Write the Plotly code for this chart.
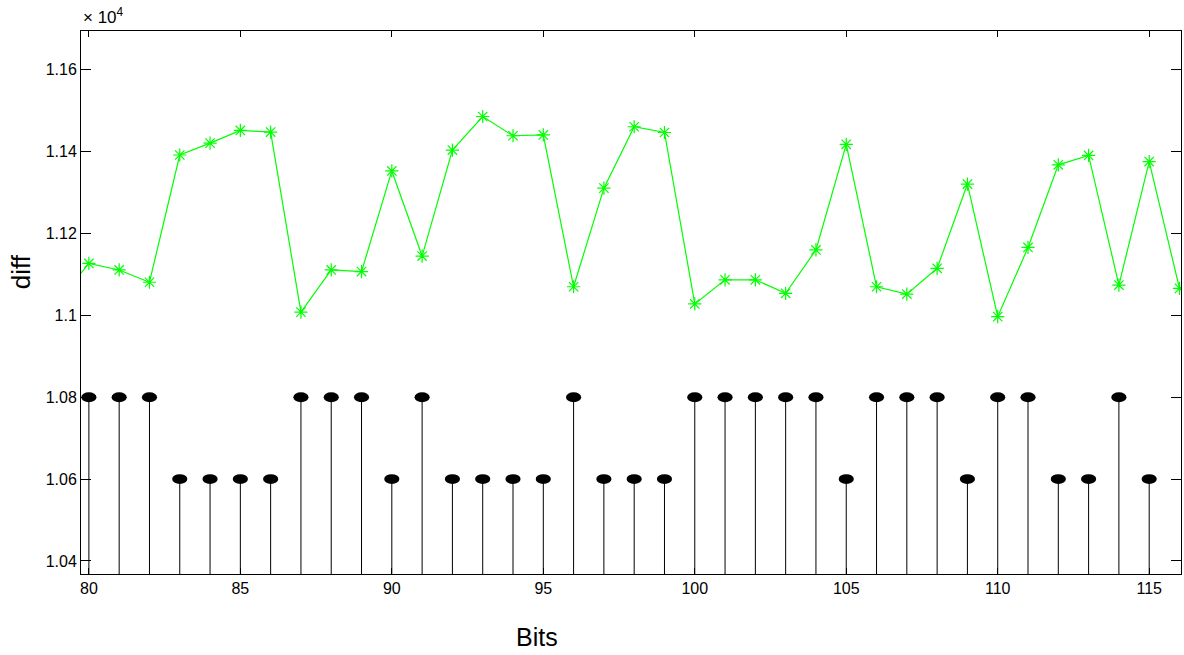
import plotly.graph_objects as go

# ---- data ----
bits = list(range(79, 117))
diff_vals = [11036, 11127, 11111, 11081, 11392, 11421, 11452, 11448, 11008, 11111,
             11107, 11353, 11145, 11404, 11486, 11439, 11441, 11070, 11311, 11461,
             11447, 11028, 11087, 11087, 11054, 11160, 11418, 11070, 11052, 11115,
             11321, 10997, 11166, 11368, 11391, 11074, 11376, 11066]

stem_bits = list(range(80, 116))
stem_vals = [10800, 10800, 10800, 10600, 10600, 10600, 10600, 10800, 10800, 10800,
             10600, 10800, 10600, 10600, 10600, 10600, 10800, 10600, 10600, 10600,
             10800, 10800, 10800, 10800, 10800, 10600, 10800, 10800, 10800, 10600,
             10800, 10800, 10600, 10600, 10800, 10600]

x_ticks = [80, 85, 90, 95, 100, 105, 110, 115]
y_ticks = [1.04, 1.06, 1.08, 1.10, 1.12, 1.14, 1.16]
y_ticktext = ["1.04", "1.06", "1.08", "1.1", "1.12", "1.14", "1.16"]
scale = 1e4
baseline = 0

FONT = "Liberation Sans, Arial, Helvetica, sans-serif"

fig = go.Figure()

# stems
sx, sy = [], []
for b, v in zip(stem_bits, stem_vals):
    sx += [b, b, None]
    sy += [baseline / scale, v / scale, None]
fig.add_trace(go.Scatter(x=sx, y=sy, mode="lines",
                         line=dict(color="black", width=1), showlegend=False,
                         hoverinfo="skip"))

# green line with asterisks
fig.add_trace(go.Scatter(x=bits, y=[v / scale for v in diff_vals], mode="lines+markers",
                         line=dict(color="#00ff00", width=1.2),
                         marker=dict(symbol="asterisk-open", size=11,
                                     line=dict(color="#00ff00", width=1.2)),
                         showlegend=False))

# elliptical stem heads (drawn in data coordinates)
shapes = []
for b, v in zip(stem_bits, stem_vals):
    shapes.append(dict(type="circle", xref="x", yref="y",
                       x0=b - 0.25, x1=b + 0.25,
                       y0=v / scale - 0.0012, y1=v / scale + 0.0012,
                       fillcolor="black", line=dict(width=0), layer="above"))

fig.update_layout(
    width=1184, height=655,
    margin=dict(l=81, r=3, t=31, b=81),
    paper_bgcolor="white", plot_bgcolor="white",
    shapes=shapes,
    font=dict(family=FONT, color="black"),
    xaxis=dict(range=[79.74, 116.05], tickvals=x_ticks, ticks="inside", ticklen=6,
               tickcolor="black", showline=True, linecolor="black", linewidth=1,
               mirror="ticks", showgrid=False, zeroline=False,
               tickfont=dict(size=16, family=FONT, color="black")),
    yaxis=dict(range=[1.0368, 1.1695], tickvals=y_ticks, ticktext=y_ticktext,
               ticks="inside", ticklen=10, tickcolor="black", showline=True,
               linecolor="black", linewidth=1, mirror="ticks", showgrid=False,
               zeroline=False, tickfont=dict(size=16, family=FONT, color="black")),
    annotations=[
        dict(text="× 10<sup>4</sup>", xref="paper", yref="paper", x=0.0, y=1.0,
             xanchor="left", yanchor="bottom", showarrow=False, yshift=2,
             font=dict(size=17, family=FONT, color="black")),
        dict(text="diff", xref="paper", yref="paper", x=-0.0545, y=0.556,
             textangle=-90, showarrow=False, xanchor="center", yanchor="middle",
             font=dict(size=26, family=FONT, color="black")),
        dict(text="Bits", xref="paper", yref="paper", x=0.4145, y=-0.116,
             showarrow=False, xanchor="center", yanchor="middle",
             font=dict(size=25, family=FONT, color="black")),
    ],
)

fig.write_html("out.html")
